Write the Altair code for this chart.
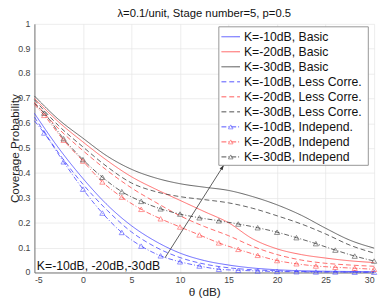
import altair as alt
import pandas as pd

# ---------------- data ----------------
THETA_FINE = [-5, -2.5, 0, 2.5, 5, 7.5, 10, 12.5, 15, 17.5, 20, 22.5, 25, 27.5, 30]
THETA_MARK = [-4, -2, 0, 2, 4, 6, 8, 10, 12, 14, 16, 18, 20, 22, 24, 26, 28, 30]

basic_10 = [0.64, 0.50, 0.378, 0.272, 0.188, 0.125, 0.078, 0.048, 0.030, 0.018, 0.011, 0.007, 0.005, 0.004, 0.003]
basic_20 = [0.70, 0.605, 0.525, 0.450, 0.385, 0.335, 0.290, 0.245, 0.200, 0.135, 0.095, 0.072, 0.058, 0.047, 0.040]
basic_30 = [0.71, 0.615, 0.540, 0.468, 0.415, 0.380, 0.357, 0.343, 0.330, 0.305, 0.272, 0.230, 0.178, 0.130, 0.098]

less_10 = [0.625, 0.48, 0.355, 0.250, 0.163, 0.102, 0.060, 0.034, 0.019, 0.011, 0.007, 0.004, 0.003, 0.002, 0.002]
less_20 = [0.685, 0.578, 0.490, 0.410, 0.340, 0.282, 0.228, 0.185, 0.148, 0.105, 0.072, 0.050, 0.037, 0.030, 0.025]
less_30 = [0.695, 0.590, 0.505, 0.425, 0.360, 0.325, 0.305, 0.293, 0.280, 0.258, 0.228, 0.195, 0.155, 0.110, 0.078]

indep_start = {"-10": 0.61, "-20": 0.675, "-30": 0.68}   # value at theta = -5
indep_10 = [0.561, 0.445, 0.335, 0.239, 0.161, 0.106, 0.067, 0.043, 0.026, 0.013, 0.009, 0.006, 0.004, 0.003, 0.002, 0.002, 0.001, 0.001]
indep_20 = [0.632, 0.532, 0.448, 0.364, 0.303, 0.254, 0.216, 0.183, 0.151, 0.119, 0.093, 0.069, 0.048, 0.035, 0.026, 0.021, 0.017, 0.013]
indep_30 = [0.641, 0.538, 0.454, 0.383, 0.325, 0.286, 0.256, 0.235, 0.220, 0.208, 0.195, 0.180, 0.162, 0.140, 0.116, 0.090, 0.066, 0.046]

K_LEVELS = ["-10", "-20", "-30"]
STYLES = ["Basic", "Less", "Indep"]
COLORS = ["#4040ff", "#ff4545", "#3a3a3a"]
DASHES = [[1, 0], [5, 3], [5, 2, 1, 2]]

LEGEND_LABELS = [
    "K=-10dB, Basic", "K=-20dB, Basic", "K=-30dB, Basic",
    "K=-10dB, Less Corre.", "K=-20dB, Less Corre.", "K=-30dB, Less Corre.",
    "K=-10dB, Independ.", "K=-20dB, Independ", "K=-30dB, Independ",
]
LEGEND_K = ["-10", "-20", "-30"] * 3
LEGEND_STYLE = ["Basic"] * 3 + ["Less"] * 3 + ["Indep"] * 3

TITLE = "λ=0.1/unit, Stage number=5, p=0.5"
ANNOT_TEXT = "K=-10dB, -20dB,-30dB"
ARROW = {"x": 8.45, "y": 0.059, "x2": 14.5, "y2": 0.431}
X_TICKS = [-5, 0, 5, 10, 15, 20, 25, 30]
Y_TICKS = [0, 0.1, 0.2, 0.3, 0.4, 0.5, 0.6, 0.7, 0.8, 0.9, 1]
Y_LABELS = ["0", "0.1", "0.2", "0.3", "0.4", "0.5", "0.6", "0.7", "0.8", "0.9", "1"]

# ---------------- tables ----------------
rows = []
for k, s, vals in [("-10", "Basic", basic_10), ("-20", "Basic", basic_20), ("-30", "Basic", basic_30),
                   ("-10", "Less", less_10), ("-20", "Less", less_20), ("-30", "Less", less_30)]:
    for t, v in zip(THETA_FINE, vals):
        rows.append({"theta": t, "p": v, "K": k, "style": s})
mrows = []
for k, vals in [("-10", indep_10), ("-20", indep_20), ("-30", indep_30)]:
    rows.append({"theta": -5, "p": indep_start[k], "K": k, "style": "Indep"})
    for t, v in zip(THETA_MARK, vals):
        rows.append({"theta": t, "p": v, "K": k, "style": "Indep"})
        mrows.append({"theta": t, "p": v, "K": k, "style": "Indep"})
lines_df = pd.DataFrame(rows)
marks_df = pd.DataFrame(mrows)

# legend placement in data units
LEG_X0, LEG_X1 = 14.0, 29.4
LEG_Y0, LEG_Y1 = 0.431, 0.988
LEG_TOP, LEG_STEP = 0.948, 0.0604
LEG_LINE_X0, LEG_LINE_X1, LEG_TEXT_X = 14.27, 16.18, 16.58
leg_df = pd.DataFrame({
    "label": LEGEND_LABELS, "K": LEGEND_K, "style": LEGEND_STYLE,
    "y": [LEG_TOP - i * LEG_STEP for i in range(len(LEGEND_LABELS))],
})
leg_df["x0"] = LEG_LINE_X0
leg_df["x1"] = LEG_LINE_X1
leg_df["xm"] = (LEG_LINE_X0 + LEG_LINE_X1) / 2
leg_df["xt"] = LEG_TEXT_X
leg_tri_df = leg_df[leg_df["style"] == "Indep"]

ylab_df = pd.DataFrame({"v": Y_TICKS, "lab": Y_LABELS, "x": [-5] * len(Y_TICKS)})

FONT = "Liberation Sans"

xscale = alt.Scale(domain=[-5, 30], nice=False)
yscale = alt.Scale(domain=[0, 1], nice=False)
color = alt.Color("K:N", scale=alt.Scale(domain=K_LEVELS, range=COLORS), legend=None)
dash = alt.StrokeDash("style:N", scale=alt.Scale(domain=STYLES, range=DASHES), legend=None)

x_axis = alt.Axis(values=X_TICKS, title="θ (dB)", labelExpr="'' + datum.value",
                  grid=True, gridColor="#e4e4e4", gridWidth=0.7, ticks=False,
                  labelFontSize=9, labelColor="#444", labelPadding=3, labelFont=FONT,
                  labelOverlap=False,
                  domainColor="#555", domainWidth=0.8,
                  titleFontSize=12, titleFontWeight="normal", titleFont=FONT,
                  titleColor="#222", titleY=20, titleBaseline="middle")
y_axis = alt.Axis(values=Y_TICKS, title="Coverage Probability", labels=False,
                  grid=True, gridColor="#e4e4e4", gridWidth=0.7, ticks=False,
                  domainColor="#555", domainWidth=0.8,
                  titleFontSize=12, titleFontWeight="normal", titleFont=FONT,
                  titleColor="#222", titleX=-20, titleBaseline="middle", titleAngle=270)


def X(field):
    return alt.X(field, scale=xscale, axis=x_axis)


def Y(field):
    return alt.Y(field, scale=yscale, axis=y_axis)


lines = alt.Chart(lines_df).mark_line(strokeWidth=0.8, interpolate="monotone").encode(
    x=X("theta:Q"), y=Y("p:Q"),
    color=color, strokeDash=dash,
    detail="K:N",
)
pts = alt.Chart(marks_df).mark_point(shape="triangle-up", filled=False, size=28, strokeWidth=0.8).encode(
    x=X("theta:Q"), y=Y("p:Q"), color=color,
)

ylabels = alt.Chart(ylab_df).mark_text(align="right", baseline="middle", dx=-4, fontSize=9,
                                       font=FONT, color="#444").encode(
    x=X("x:Q"), y=Y("v:Q"), text="lab:N")

annot = alt.Chart(pd.DataFrame({"x": [-4.75], "y": [0.027], "t": [ANNOT_TEXT]})).mark_text(
    align="left", baseline="middle", fontSize=12.5, font=FONT, color="#111"
).encode(x=X("x:Q"), y=Y("y:Q"), text="t:N")

arrow_df = pd.DataFrame([ARROW])
arrow = alt.Chart(arrow_df).mark_rule(color="#333", strokeWidth=0.8).encode(
    x=X("x:Q"), y=Y("y:Q"), x2="x2:Q", y2="y2:Q")
head = alt.Chart(arrow_df).mark_point(
    shape="M0,0L-0.35,1L0.35,1Z", filled=True, size=100, angle=32, color="#333", opacity=1
).encode(x=X("x2:Q"), y=Y("y2:Q"))

box = alt.Chart(pd.DataFrame({"x": [LEG_X0], "x2": [LEG_X1], "y": [LEG_Y0], "y2": [LEG_Y1]})).mark_rect(
    fill="white", stroke="#8a8a8a", strokeWidth=0.9
).encode(x=X("x:Q"), x2="x2:Q", y=Y("y:Q"), y2="y2:Q")
leg_lines = alt.Chart(leg_df).mark_rule(strokeWidth=0.9).encode(
    x=X("x0:Q"), x2="x1:Q", y=Y("y:Q"), color=color, strokeDash=dash)
leg_tris = alt.Chart(leg_tri_df).mark_point(shape="triangle-up", filled=False, size=22, strokeWidth=0.8).encode(
    x=X("xm:Q"), y=Y("y:Q"), color=color)
leg_text = alt.Chart(leg_df).mark_text(align="left", baseline="middle", fontSize=12.5, font=FONT,
                                       color="#111").encode(x=X("xt:Q"), y=Y("y:Q"), text="label:N")

chart = alt.layer(lines, pts, ylabels, annot, arrow, head, box, leg_lines, leg_tris, leg_text).properties(
    width=347, height=254,
    title=alt.TitleParams(TITLE, fontSize=11.5, fontWeight="normal", font=FONT, color="#111",
                          anchor="middle", offset=0),
    autosize=alt.AutoSizeParams(type="none"),
    padding={"left": 27, "top": 13, "right": 6, "bottom": 28},
).configure_view(stroke=None)

chart.save("out.html", embed_options={"renderer": "svg", "actions": False})
